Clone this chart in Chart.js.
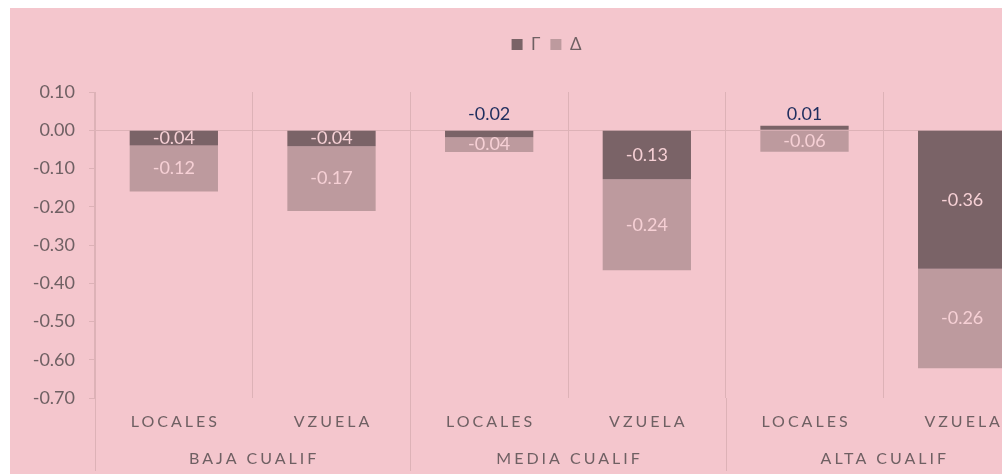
<!DOCTYPE html>
<html><head><meta charset="utf-8">
<script src="https://cdn.jsdelivr.net/npm/chart.js@4.4.1/dist/chart.umd.min.js"></script>
<style>
html,body{margin:0;padding:0;background:#fff;overflow:hidden;width:1002px;height:474px;}
#wrap{position:absolute;left:10px;top:8px;width:1073px;height:466px;background:#F4C6CD;}
canvas{display:block;}
</style></head><body>
<div id="wrap"><canvas id="c" width="1073" height="466"></canvas></div>
<script>
const categories = ['LOCALES','VZUELA','LOCALES','VZUELA','LOCALES','VZUELA'];
const groups = ['BAJA CUALIF','MEDIA CUALIF','ALTA CUALIF'];
const gammaValues = [-0.04, -0.042, -0.018, -0.128, 0.012, -0.362];
const deltaValues = [-0.12, -0.169, -0.039, -0.238, -0.056, -0.26];
const yTickValues = [0.1, 0, -0.1, -0.2, -0.3, -0.4, -0.5, -0.6, -0.7];

const FONT = 'Lato';
Chart.defaults.font.family = FONT;
const TEXT = '#6F6063';
const GRID = '#DDB2B7';

const legendGap = {
  id: 'legendGap',
  beforeLayout(chart) {
    const lg = chart.legend;
    if (lg && !lg._gapPatched) {
      const f = lg.fit;
      lg.fit = function () { f.call(this); this.height += 29; };
      lg._gapPatched = true;
    }
  }
};

const valueLabels = {
  id: 'valueLabels',
  afterDatasetsDraw(chart) {
    const ctx = chart.ctx;
    const y0 = chart.scales.y.getPixelForValue(0);
    ctx.save();
    ctx.font = '18px ' + FONT;
    ctx.textAlign = 'center';
    ctx.textBaseline = 'middle';
    chart.data.datasets.forEach((ds, di) => {
      const meta = chart.getDatasetMeta(di);
      meta.data.forEach((el, i) => {
        const v = ds.data[i];
        const p = el.getProps(['x', 'y', 'base'], true);
        let ty = (p.y + p.base) / 2;
        let col = '#F6D0D5';
        if (di === 0 && Math.abs(v) < 0.03) { ty = y0 - 16; col = '#1F2E5E'; }
        ctx.fillStyle = col;
        ctx.fillText(v.toFixed(2), p.x, ty);
      });
    });
    ctx.restore();
  }
};

const categoryAxis = {
  id: 'categoryAxis',
  afterDraw(chart) {
    const ctx = chart.ctx;
    const xs = chart.scales.x;
    const area = chart.chartArea;
    const bottom = chart.height - 3;
    const per = categories.length / groups.length;
    ctx.save();
    ctx.strokeStyle = GRID;
    ctx.lineWidth = 1;
    const lines = [area.left];
    for (let g = 1; g < groups.length; g++) {
      const idx = g * per;
      lines.push((xs.getPixelForValue(idx - 1) + xs.getPixelForValue(idx)) / 2);
    }
    lines.forEach(lx => {
      const x = Math.round(lx) + 0.5;
      ctx.beginPath(); ctx.moveTo(x, area.bottom); ctx.lineTo(x, bottom); ctx.stroke();
    });
    ctx.fillStyle = TEXT;
    ctx.textAlign = 'center';
    ctx.textBaseline = 'middle';
    const sp = 3;
    ctx.letterSpacing = sp + 'px';
    ctx.font = '16px ' + FONT;
    categories.forEach((c, i) => {
      ctx.fillText(c, xs.getPixelForValue(i) + sp / 2, area.bottom + 24);
    });
    groups.forEach((g, gi) => {
      const a = xs.getPixelForValue(gi * per);
      const b = xs.getPixelForValue(gi * per + per - 1);
      ctx.fillText(g, (a + b) / 2 + sp / 2, area.bottom + 61);
    });
    ctx.restore();
  }
};

new Chart(document.getElementById('c'), {
  type: 'bar',
  data: {
    labels: categories,
    datasets: [
      { label: 'Γ', data: gammaValues, backgroundColor: '#7A6367', barPercentage: 0.56, categoryPercentage: 1 },
      { label: 'Δ', data: deltaValues, backgroundColor: '#BD9A9E', barPercentage: 0.56, categoryPercentage: 1 }
    ]
  },
  options: {
    responsive: false,
    animation: false,
    devicePixelRatio: 1,
    layout: { padding: { top: 18, left: 0, right: 0, bottom: 76 } },
    plugins: {
      legend: {
        position: 'top',
        labels: { boxWidth: 11, boxHeight: 11, color: TEXT, font: { size: 17 }, padding: 10 }
      },
      tooltip: { enabled: false }
    },
    scales: {
      x: {
        stacked: true,
        offset: true,
        ticks: { display: false },
        grid: { offset: true, color: GRID, drawTicks: false },
        border: { display: false }
      },
      y: {
        stacked: true,
        min: -0.7,
        max: 0.1,
        afterBuildTicks: s => { s.ticks = yTickValues.map(v => ({ value: v })); },
        afterFit: s => { s.width = 85; },
        ticks: { color: TEXT, font: { size: 18 }, padding: 14, callback: v => Number(v).toFixed(2) },
        grid: {
          color: c => (c.tick && c.tick.value === 0) ? GRID : 'rgba(0,0,0,0)',
          tickColor: GRID,
          tickLength: 6
        },
        border: { color: GRID }
      },
      yRight: {
        type: 'linear',
        position: 'right',
        display: true,
        ticks: { display: false },
        grid: { display: false, drawOnChartArea: false },
        border: { display: false },
        afterFit: s => { s.width = 42; }
      }
    }
  },
  plugins: [legendGap, valueLabels, categoryAxis]
});
</script>
</body></html>
